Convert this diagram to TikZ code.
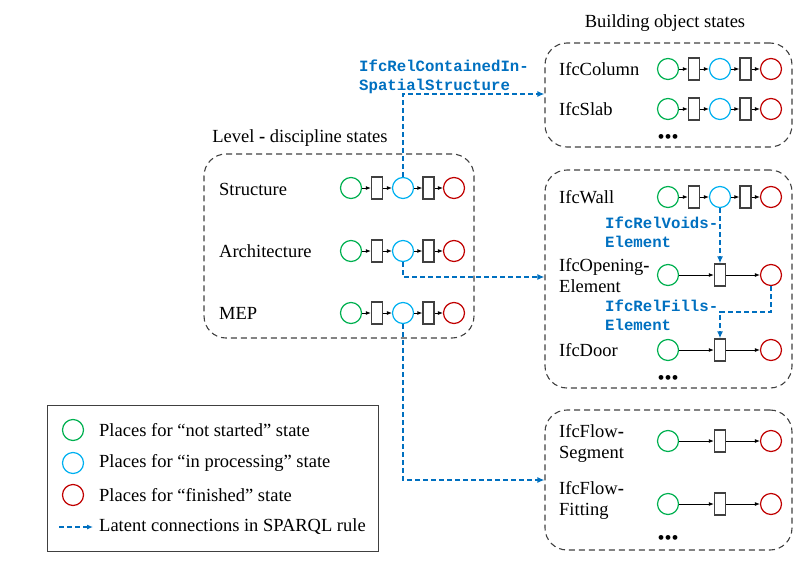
\documentclass[tikz,border=0pt]{standalone}
\usepackage{fontspec}
\setmainfont{Liberation Serif}
\setmonofont{Liberation Mono}
\usetikzlibrary{arrows.meta}
\definecolor{pgreen}{RGB}{0,176,80}
\definecolor{pcyan}{RGB}{0,176,240}
\definecolor{pred}{RGB}{192,0,0}
\definecolor{lblue}{RGB}{0,112,192}
\definecolor{dgray}{RGB}{64,64,64}
\newcommand\fivechain[3]{%
  \node[notst] (#1a) at (#2,#3) {};
  \node[trans] (#1b) at (#2+26,#3) {};
  \node[inproc] (#1c) at (#2+52,#3) {};
  \node[trans] (#1d) at (#2+77.5,#3) {};
  \node[fin] (#1e) at (#2+103,#3) {};
  \draw[arc] (#1a) -- (#1b);
  \draw[arc] (#1b) -- (#1c);
  \draw[arc] (#1c) -- (#1d);
  \draw[arc] (#1d) -- (#1e);}
\newcommand\threechain[3]{%
  \node[notst] (#1a) at (#2,#3) {};
  \node[trans] (#1b) at (#2+52,#3) {};
  \node[fin] (#1c) at (#2+103,#3) {};
  \draw[arc] (#1a) -- (#1b);
  \draw[arc] (#1b) -- (#1c);}
\begin{document}
\begin{tikzpicture}[x=1pt,y=-1pt,
 every node/.style={font=\fontsize{18.5}{21}\selectfont},
 place/.style={circle,draw,line width=1.2pt,minimum size=21pt,inner sep=0pt},
 notst/.style={place,draw=pgreen},
 inproc/.style={place,draw=pcyan},
 fin/.style={place,draw=pred},
 trans/.style={rectangle,draw=dgray,fill=white,line width=1.3pt,minimum width=11pt,minimum height=22pt,inner sep=0pt},
 arc/.style={-{Latex[length=5pt,width=4pt]},line width=0.9pt},
 group/.style={draw=dgray,dash pattern=on 6pt off 4pt,rounded corners=22pt,line width=1.1pt,inner sep=0pt},
 latent/.style={draw=lblue,line width=1.4pt,dash pattern=on 5pt off 3pt,-{Latex[length=7pt,width=6pt]}},
 rel/.style={text=lblue,font=\ttfamily\bfseries\fontsize{15.7}{19}\selectfont,align=left,inner sep=0pt,anchor=west},
 lbl/.style={anchor=west,inner sep=0pt,align=left},
 ttl/.style={inner sep=0pt},
 dots/.style={inner sep=0pt,font=\fontsize{20}{20}\selectfont}
]
\useasboundingbox (0,0) rectangle (808,562);

% group boxes
\node[group,minimum width=270pt,minimum height=184pt] (boxL) at (339,246) {};
\node[group,minimum width=247pt,minimum height=104pt] (boxB) at (668.5,95) {};
\node[group,minimum width=247pt,minimum height=218pt] (boxW) at (668.5,279) {};
\node[group,minimum width=247pt,minimum height=140pt] (boxF) at (668.5,480) {};
\node[draw=dgray,line width=1pt,minimum width=331pt,minimum height=146pt,inner sep=0pt] (legend) at (212.5,478) {};

% titles
\node[ttl] (tL) at (300,138) {Level \textbf{-} discipline states};
\node[ttl] (tB) at (665,23) {Building object states};

% left box rows
\node[lbl] (lS) at (219,189) {Structure};
\node[lbl] (lA) at (219,251) {Architecture};
\node[lbl] (lM) at (219,313) {MEP};
\fivechain{s}{351}{188}
\fivechain{a}{351}{251}
\fivechain{m}{351}{313}

% building object rows
\node[lbl] (lC) at (559,69) {IfcColumn};
\node[lbl] (lSl) at (559,109) {IfcSlab};
\fivechain{c}{668}{69}
\fivechain{b}{668}{109}
\node[dots] (d1) at (668,139) {\textbullet\textbullet\textbullet};

% wall / opening / door
\node[lbl] (lW) at (559,197) {IfcWall};
\node[lbl] (lO) at (559,275.5) {IfcOpening\textbf{-}\\Element};
\node[lbl] (lD) at (559,350) {IfcDoor};
\fivechain{w}{668}{197}
\threechain{o}{668}{275}
\threechain{d}{668}{350}
\node[dots] (d2) at (668,380) {\textbullet\textbullet\textbullet};

% flow
\node[lbl] (lFS) at (559,443) {IfcFlow\textbf{-}\\Segment};
\node[lbl] (lFF) at (559,500) {IfcFlow\textbf{-}\\Fitting};
\threechain{fs}{668}{441}
\threechain{ff}{668}{504}
\node[dots] (d3) at (668,540) {\textbullet\textbullet\textbullet};

% relation labels
\node[rel] (r1) at (359,76.5) {IfcRelContainedIn-\\SpatialStructure};
\node[rel] (r2) at (605,232.5) {IfcRelVoids-\\Element};
\node[rel] (r3) at (605,315.5) {IfcRelFills-\\Element};

% latent connections
\draw[latent] (sc.north) |- (boxB.west |- 0,94);
\draw[latent] (ac.south) |- (boxW.west |- 0,277);
\draw[latent] (mc.south) |- (boxF.west |- 0,480);
\draw[latent] (wc.south) -- (ob.north);
\coordinate (fbend) at (745,312);
\draw[latent] (oc.south) |- (fbend) -| (db.north);

% legend
\node[notst] (g1) at (73,430) {};
\node[inproc] (g2) at (73,463) {};
\node[fin] (g3) at (73,495) {};
\node[lbl] (gt1) at (99,430) {Places for “not started” state};
\node[lbl] (gt2) at (99,463) {Places for “in processing” state};
\node[lbl] (gt3) at (99,495) {Places for “finished” state};
\coordinate (ga) at (59,527);
\coordinate (gb) at (93,527);
\draw[latent,line width=1.1pt,-{Latex[length=6pt,width=5pt]}] (ga) -- (gb);
\node[lbl] (gt4) at (99,527) {Latent connections in SPARQL rule};
\end{tikzpicture}
\end{document}
